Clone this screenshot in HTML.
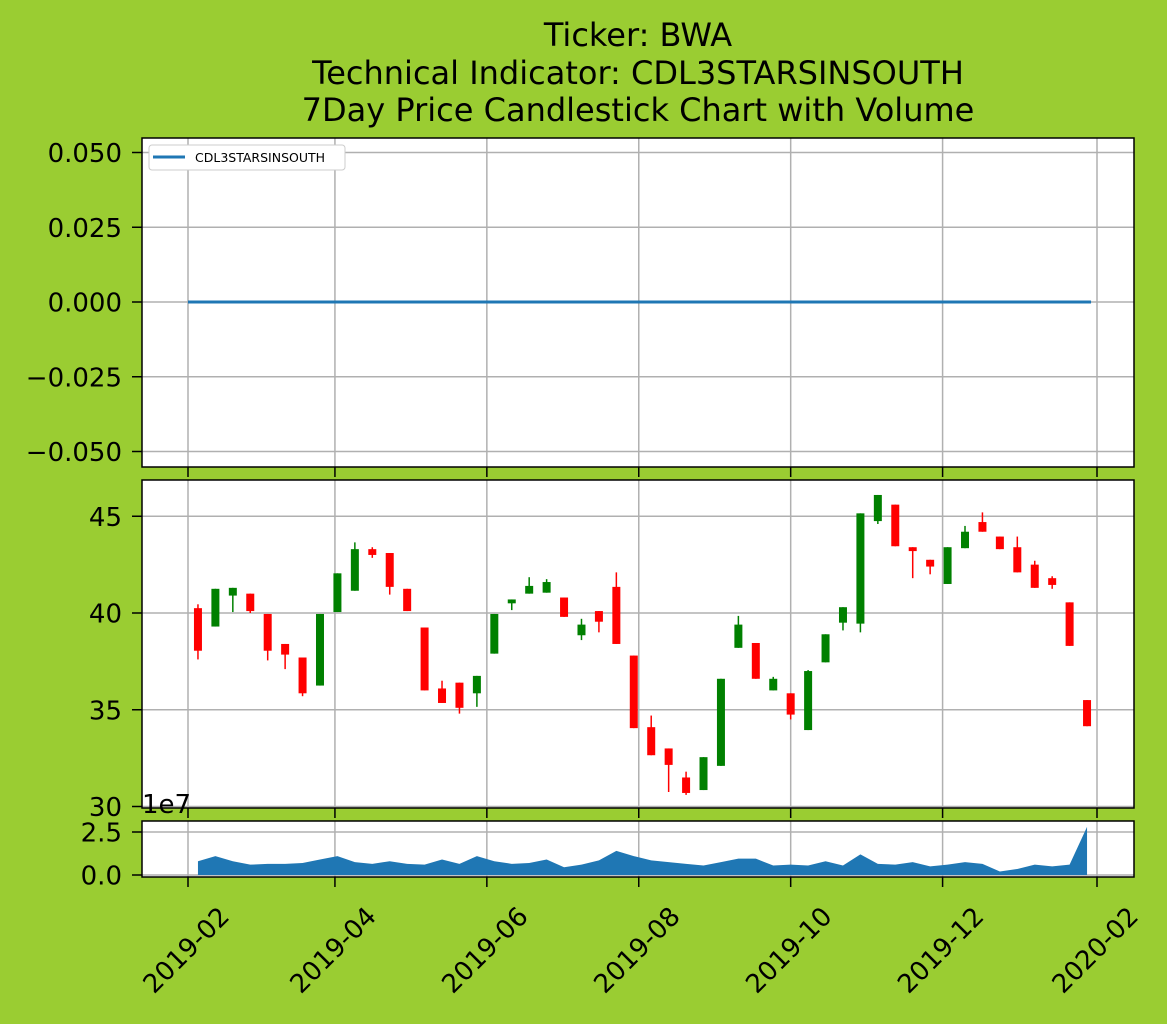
<!DOCTYPE html>
<html><head><meta charset="utf-8"><style>
body{margin:0;background:#9acd32;}
svg text{font-family:"DejaVu Sans","Liberation Sans",sans-serif;fill:#000;}
</style></head><body>
<svg id="c" width="1167" height="1019" xmlns="http://www.w3.org/2000/svg">
<rect width="1167" height="1019" fill="#9acd32"/>
<text x="638" y="46" font-size="32" text-anchor="middle">Ticker: BWA</text>
<text x="638" y="84" font-size="32" text-anchor="middle">Technical Indicator: CDL3STARSINSOUTH</text>
<text x="638" y="121" font-size="32" text-anchor="middle">7Day Price Candlestick Chart with Volume</text>
<rect x="142" y="138" width="992" height="329" fill="#fff"/>
<rect x="142" y="480" width="992" height="328" fill="#fff"/>
<rect x="142" y="821" width="992" height="56" fill="#fff"/>
<g id="grid"></g><g id="marks"></g><g id="axes"></g>
</svg>
<script>
const xTickLabels=["2019-02","2019-04","2019-06","2019-08","2019-10","2019-12","2020-02"];
const xTickDates=["2019-02-01","2019-04-01","2019-06-01","2019-08-01","2019-10-01","2019-12-01","2020-02-01"];
const firstCandle="2019-02-05";
const opens=[40.25,39.3,40.9,41.0,39.95,38.4,37.7,36.25,40.05,41.15,43.3,43.1,41.25,39.25,36.1,36.4,35.85,37.9,40.5,41.0,41.05,40.8,38.85,40.1,41.35,37.8,34.1,33.0,31.5,30.85,32.1,38.2,38.45,36.0,35.85,33.95,37.45,39.5,39.45,44.75,45.6,43.4,42.75,41.5,43.35,44.7,43.95,43.4,42.5,41.8,40.55,35.5];
const closes=[38.05,41.25,41.3,40.1,38.05,37.85,35.85,39.95,42.05,43.3,43.0,41.35,40.1,36.0,35.35,35.1,36.75,39.95,40.7,41.4,41.6,39.8,39.4,39.55,38.4,34.05,32.65,32.15,30.7,32.55,36.6,39.4,36.6,36.6,34.75,37.0,38.9,40.3,45.15,46.1,43.45,43.2,42.4,43.4,44.2,44.2,43.3,42.1,41.3,41.45,38.3,34.15];
const highs=[40.45,41.25,41.3,41.0,39.95,38.4,37.7,39.95,42.05,43.65,43.4,43.1,41.25,39.25,36.5,36.4,36.75,39.95,40.7,41.85,41.75,40.8,39.7,40.1,42.1,37.8,34.7,33.0,31.8,32.55,36.6,39.85,38.45,36.7,35.85,37.05,38.9,40.3,45.15,46.1,45.6,43.4,42.75,43.4,44.5,45.2,43.95,43.95,42.7,41.9,40.55,35.5];
const lows=[37.6,39.3,40.05,40.0,37.55,37.1,35.7,36.25,40.05,41.15,42.85,40.95,40.1,36.0,35.35,34.8,35.15,37.9,40.15,41.0,41.05,39.8,38.6,39.0,38.4,34.05,32.65,30.75,30.6,30.85,32.1,38.2,36.6,36.0,34.5,33.95,37.45,39.1,39.0,44.6,43.45,41.8,42.0,41.5,43.35,44.2,43.3,42.1,41.3,41.25,38.3,34.15];
const volumes=[0.8,1.1,0.8,0.6,0.65,0.65,0.7,0.9,1.1,0.75,0.65,0.8,0.65,0.6,0.9,0.65,1.1,0.8,0.65,0.7,0.9,0.45,0.6,0.85,1.4,1.1,0.85,0.75,0.65,0.55,0.75,0.95,0.95,0.55,0.6,0.55,0.8,0.55,1.2,0.65,0.6,0.75,0.5,0.6,0.75,0.65,0.2,0.35,0.6,0.5,0.6,2.8];
const indicatorValues=new Array(52).fill(0);
const priceTicks=[30,35,40,45];
const volTicks=[0,2.5];
const indTicks=[-0.05,-0.025,0,0.025,0.05];

const NS="http://www.w3.org/2000/svg";
const D0=Date.parse("2019-02-01"),D1=Date.parse("2020-02-01");
const X=t=>188+(t-D0)/(D1-D0)*909;
const Yp=p=>613-(p-40)*19.35;
const Yv=v=>875-v*17.2;
const Yi=v=>302-v*2990;
function mk(tag,attrs,parent){const e=document.createElementNS(NS,tag);for(const k in attrs)e.setAttribute(k,attrs[k]);parent.appendChild(e);return e;}
const grid=document.getElementById('grid'),marks=document.getElementById('marks'),axes=document.getElementById('axes');
const panels=[[138,467],[480,808],[821,877]];
xTickDates.forEach((d,i)=>{const x=X(Date.parse(d));
 panels.forEach(p=>{const l=mk('line',{x1:x,x2:x,y1:p[0],y2:p[1],stroke:'#b0b0b0','stroke-width':1.5},grid);
 
 
 mk('line',{x1:x,x2:x,y1:p[1],y2:p[1]+10,stroke:'#000','stroke-width':1.5},axes);});
 const tx=mk('text',{x:0,y:9,'font-size':26,'text-anchor':'middle',transform:`translate(${x-2},${950}) rotate(-45)`},axes);
 tx.textContent=xTickLabels[i];
 
 
});
function yticks(ticks,Y,fmt){ticks.forEach(v=>{const y=Y(v);
 const l=mk('line',{x1:142,x2:1134,y1:y,y2:y,stroke:'#b0b0b0','stroke-width':1.5},grid);
 
 
 mk('line',{x1:132,x2:142,y1:y,y2:y,stroke:'#000','stroke-width':1.5},axes);
 const t=mk('text',{x:122,y:y+9.5,'font-size':26,'text-anchor':'end'},axes);t.textContent=fmt(v);
 
 });}
yticks(indTicks,Yi,v=>(v<0?'\u2212':'')+Math.abs(v).toFixed(3));
yticks(priceTicks,Yp,v=>String(v));
yticks(volTicks,Yv,v=>v.toFixed(1));
const s0=Date.parse(firstCandle);
let pts=indicatorValues.map((v,i)=>[i===0?X(D0):X(s0+i*7*864e5)+4,Yi(v)]);
const il=mk('polyline',{points:pts.map(p=>p.join(',')).join(' '),fill:'none',stroke:'#1f77b4','stroke-width':3},marks);


opens.forEach((o,i)=>{const x=X(s0+i*7*864e5);const c=closes[i];const col=c>=o?'#008000':'#ff0000';
 const g=mk('g',{},marks);
 
 
 mk('line',{x1:x,x2:x,y1:Yp(highs[i]),y2:Yp(lows[i]),stroke:col,'stroke-width':1.5},g);
 const top=Yp(Math.max(o,c)),bot=Yp(Math.min(o,c));
 mk('rect',{x:x-4,y:top,width:8,height:Math.max(1.5,bot-top),fill:col},g);
});
let vp=volumes.map((v,i)=>[X(s0+i*7*864e5),Yv(v)]);
const first=vp[0][0],last=vp[vp.length-1][0];
const va=mk('path',{d:`M${first},${Yv(0)} `+vp.map(p=>'L'+p.join(',')).join(' ')+` L${last},${Yv(0)} Z`,fill:'#1f77b4'},marks);


panels.forEach(p=>{const r=mk('rect',{x:142,y:p[0],width:992,height:p[1]-p[0],fill:'none',stroke:'#000','stroke-width':1.5},axes);
 
 });
const ex=mk('text',{x:142,y:813,'font-size':26},axes);ex.textContent='1e7';


const lg=mk('g',{},axes);


mk('rect',{x:149,y:145,width:196,height:25,rx:3,fill:'#fff',stroke:'#ccc'},lg);
mk('line',{x1:153,x2:185,y1:157,y2:157,stroke:'#1f77b4','stroke-width':3},lg);
const lt=mk('text',{x:195,y:162,'font-size':12.5},lg);lt.textContent='CDL3STARSINSOUTH';


</script>
</body></html>
